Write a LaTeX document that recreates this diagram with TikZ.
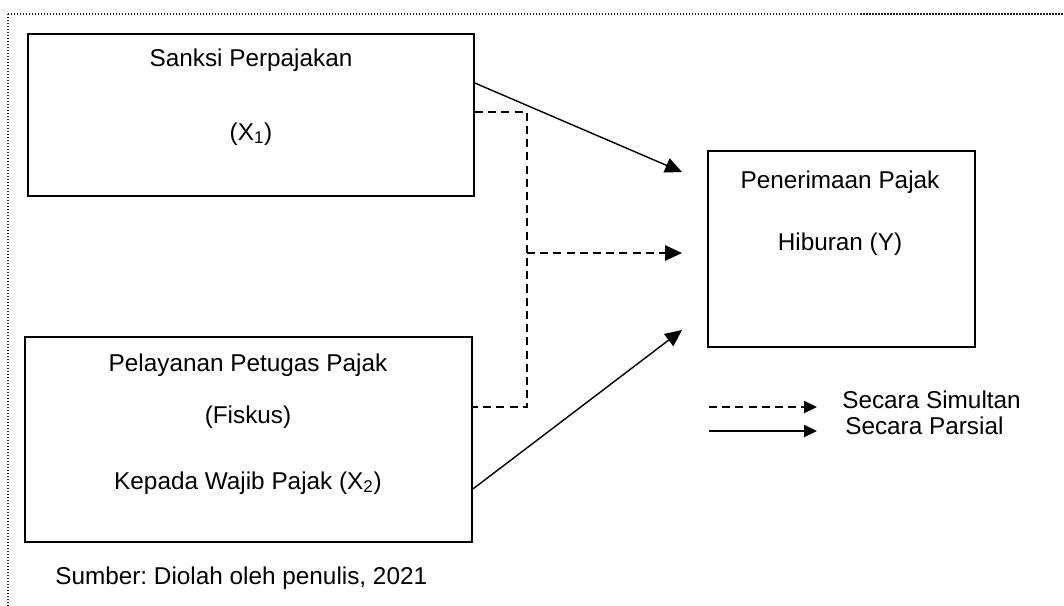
\documentclass[tikz,border=0pt]{standalone}
\usepackage{fontspec}
\setmainfont{Liberation Sans}
\usetikzlibrary{arrows.meta,calc,positioning}
\frenchspacing

\begin{document}
\begin{tikzpicture}[
    x=0.025cm,y=-0.025cm,
    box/.style={draw=black,line width=1.3pt,inner sep=0pt},
    lbl/.style={font=\fontsize{17.3}{20}\selectfont,inner sep=0pt},
    partial/.style={-{Triangle[length=0.42cm,width=0.38cm]},line width=1pt},
    simul/.style={-{Triangle[length=0.42cm,width=0.38cm]},line width=1pt,dash pattern=on 0.2cm off 0.13cm},
    keysolid/.style={-{Triangle[length=0.32cm,width=0.3cm]},line width=1pt},
    keydash/.style={-{Triangle[length=0.32cm,width=0.3cm]},line width=1pt,dash pattern=on 0.2cm off 0.13cm}
  ]
    \clip (0,0) rectangle (1064,605);
    \draw[line width=1pt,black!85,dash pattern=on 0.03cm off 0.045cm] (8,14) rectangle (1080,620);
    % variables
    \node[box,minimum width=11.15cm,minimum height=4.05cm] (x1) at (251,115) {};
    \node[box,minimum width=11.18cm,minimum height=5.12cm] (x2) at (248.5,439.5) {};
    \node[box,minimum width=6.68cm,minimum height=4.9cm] (y) at (841.5,249) {};
    \node[lbl] (x1a) at (251,60) {Sanksi Perpajakan};
    \node[lbl] (x1b) at (251,134) {(X\textsubscript{1})};
    \node[lbl] (x2a) at (248,365) {Pelayanan Petugas Pajak};
    \node[lbl] (x2b) at (248,417) {(Fiskus)};
    \node[lbl] (x2c) at (248,483) {Kepada Wajib Pajak (X\textsubscript{2})};
    \node[lbl] (ya) at (840,182) {Penerimaan Pajak};
    \node[lbl] (yb) at (840,244) {Hiburan (Y)};
    % arrows
    \coordinate (t1) at (682,172); \coordinate (t2) at (682,253); \coordinate (t3) at (682,330);
    \coordinate (j) at (527,253);
    \draw[partial] ($(x1.north east)+(0,50)$) -- (t1);
    \draw[partial] ($(x2.south east)+(0,-54)$) -- (t3);
    \draw[line width=1pt,dash pattern=on 0.2cm off 0.13cm] ($(x1.north east)+(0,79)$) -| (j)
      |- ($(x2.north east)+(0,71)$);
    \draw[simul] (j) -- (t2);
    % legend
    \coordinate (k1) at (709,407); \coordinate (k2) at (817,407);
    \coordinate (k3) at (709,431); \coordinate (k4) at (817,431);
    \draw[keydash] (k1) -- (k2);
    \draw[keysolid] (k3) -- (k4);
    \node[lbl,anchor=west] (ks) at (842,400) {Secara Simultan};
    \node[lbl,anchor=west] (kp) at (845,426) {Secara Parsial};
    \node[lbl,anchor=west] (src) at (55,578) {Sumber: Diolah oleh penulis, 2021};
  \end{tikzpicture}
\end{document}
